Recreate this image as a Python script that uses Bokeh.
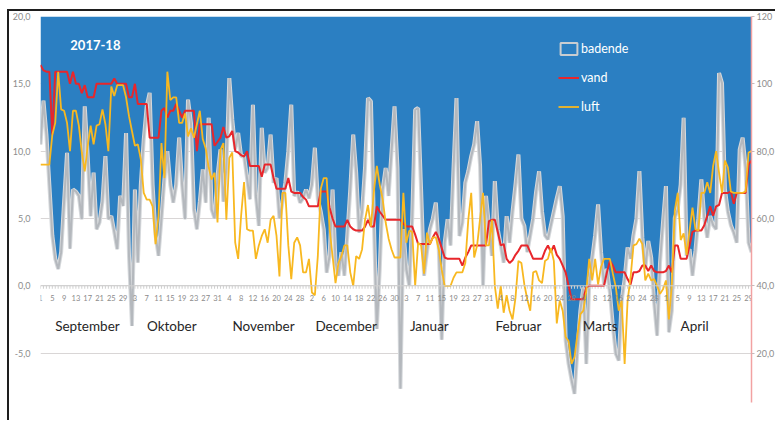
from bokeh.plotting import figure
from bokeh.models import (Range1d, LinearAxis, FixedTicker, CustomJSTickFormatter,
                          Legend, LegendItem, Span)
from bokeh.core.properties import value
from bokeh.embed import file_html
from bokeh.resources import INLINE

# ---------------- data ----------------
title_text = "2017-18"

# water temperature (left axis), one value per day, 1 Sep .. 30 Apr
vand = [16.4, 16.0, 15.9, 15.9, 11.2, 15.9, 15.9, 15.9, 15.9, 15.9,
        15.0, 15.9, 15.0, 15.0, 14.3, 14.9, 14.0, 14.0, 14.0, 15.0,
        15.0, 15.0, 15.0, 15.0, 15.0, 15.4, 15.0, 15.0, 15.0, 15.0,
        14.0, 14.0, 15.0, 13.5, 13.5, 13.5, 13.5, 11.0, 11.0, 11.0,
        11.0, 13.0, 13.2, 12.5, 13.0, 13.0, 13.5, 13.0, 12.5, 13.0,
        13.0, 13.0, 13.0, 10.0, 12.0, 12.0, 12.0, 12.0, 12.0, 10.4,
        10.7, 11.0, 11.8, 11.0, 11.1, 11.5, 10.0, 9.9, 9.7, 9.6,
        10.0, 8.9, 8.9, 8.9, 8.9, 8.1, 9.0, 9.0, 9.0, 8.0,
        7.2, 7.2, 7.2, 7.2, 8.0, 7.0, 6.9, 6.9, 6.9, 6.6,
        6.4, 5.9, 5.9, 5.9, 5.9, 7.0, 7.0, 7.0, 5.8, 5.0,
        4.4, 4.4, 4.4, 4.4, 4.9, 4.4, 4.2, 4.1, 4.1, 4.1,
        4.4, 4.9, 4.4, 4.4, 5.9, 5.5, 5.2, 4.9, 4.9, 4.9,
        4.9, 4.9, 4.9, 4.6, 4.4, 4.4, 4.4, 3.8, 3.1, 3.1,
        3.1, 3.1, 3.1, 3.6, 4.0, 3.5, 2.8, 2.1, 2.0, 2.0,
        2.0, 2.0, 2.0, 1.5, 2.1, 2.5, 3.0, 3.0, 3.0, 3.0,
        3.0, 3.0, 4.8, 4.9, 4.9, 4.0, 3.0, 3.1, 2.0, 1.7,
        1.9, 2.3, 2.6, 3.0, 3.0, 3.0, 2.5, 2.0, 2.0, 2.0,
        2.0, 2.6, 3.0, 2.5, 3.0, 2.3, 2.0, 1.5, 1.0, 0.0,
        -1.0, -1.0, -1.0, -1.0, -1.0, -0.1, 0.0, 0.0, 0.0, 0.0,
        0.0, 0.0, 1.0, 1.85, 1.5, 1.0, 1.0, 1.0, 1.0, 0.5,
        0.1, 1.0, 1.0, 1.1, 1.5, 1.5, 1.1, 1.5, 1.1, 1.0,
        1.0, 1.0, 1.1, 1.5, 1.0, 3.0, 3.0, 2.0, 2.0, 2.0,
        3.0, 4.0, 4.1, 4.1, 4.1, 4.5, 5.2, 5.9, 5.2, 5.9,
        6.0, 6.9, 6.9, 6.9, 7.0, 6.1, 6.9, 6.9, 6.9, 6.9,
        9.0, 9.3]

# air temperature (left axis)
luft = [9.0, 9.0, 9.0, 9.0, 11.2, 12.1, 15.9, 13.1, 13.0, 12.1,
        10.0, 13.0, 13.0, 11.9, 9.9, 8.5, 10.4, 11.9, 10.5, 11.9,
        12.0, 13.1, 12.0, 10.0, 14.8, 14.1, 14.9, 14.9, 14.9, 14.0,
        12.6, 11.5, 10.4, 10.5, 9.4, 6.9, 6.4, 6.4, 5.9, 3.1,
        5.2, 10.6, 8.0, 15.9, 13.8, 14.0, 14.0, 12.1, 12.1, 12.8,
        11.1, 11.7, 11.0, 12.0, 13.0, 10.9, 10.2, 8.8, 7.9, 8.4,
        4.7, 10.1, 10.6, 4.9, 9.5, 9.9, 3.2, 2.0, 5.2, 7.7,
        4.2, 4.1, 4.1, 2.0, 3.0, 3.7, 4.2, 3.2, 4.9, 5.2,
        3.7, 0.7, 6.9, 6.9, 3.0, 0.5, 3.2, 3.6, 3.0, 1.0,
        1.0, 2.0, -0.5, -0.7, 2.2, 7.2, 8.0, 8.0, 4.2, 2.2,
        0.2, 1.7, 2.2, 3.0, 3.0, 1.0, 0.0, 2.2, 2.0, 2.7,
        4.9, 6.0, 4.4, 7.0, 8.9, 7.5, 6.4, 4.7, 3.5, 2.7,
        2.1, 2.1, 2.1, 6.9, 3.2, 4.1, 4.0, 0.0, 3.2, 3.0,
        0.9, 3.95, 3.1, 3.6, 3.6, 2.7, 1.2, 0.0, 0.0, 0.0,
        0.6, 1.0, 1.0, 1.0, 1.7, 4.9, 6.9, 2.1, 3.0, 5.0,
        6.9, 3.0, 3.0, 4.9, 0.0, -1.7, 0.0, -2.0, -0.7, -1.85,
        -2.5, -0.9, 1.85, 1.7, 0.1, -1.0, -1.85, 1.0, 1.1, 0.4,
        0.2, 1.85, 2.0, 2.8, 1.85, -2.8, -1.1, -1.85, -3.8, -4.1,
        -5.8, -5.3, -3.6, -2.1, -1.85, -0.4, 2.0, 0.4, 2.0, 0.1,
        1.4, 2.0, 2.0, 2.0, 0.9, -0.1, -1.85, -1.1, -5.8, -1.1,
        0.6, 3.0, 3.1, 3.5, 3.1, 0.4, 0.9, 0.4, 0.5, 0.0,
        -0.6, -0.25, 0.4, -2.5, 0.1, 5.6, 6.9, 3.4, 3.9, 2.3,
        4.1, 5.8, 4.2, 4.1, 6.9, 6.9, 7.7, 6.9, 8.9, 10.0,
        8.4, 6.9, 9.3, 8.8, 7.0, 6.9, 6.9, 6.9, 6.9, 7.0,
        9.9, 10.0]

# number of bathers (right axis)
badende = [82, 95, 85, 70, 55, 48, 45, 50, 65, 79.5,
           51, 68.6, 68, 66.7, 59.8, 93.3, 78.5, 60.7, 73.6, 56.8,
           58.8, 65, 78.5, 59.8, 60.7, 56, 50.9, 66.7, 63.7, 85.4,
           48.9, 28.1, 68.6, 46.9, 70, 83.5, 93.3, 97.3, 70, 55,
           48.9, 60, 71.6, 80, 70, 64.7, 70, 84, 70, 59.8,
           95.3, 88.4, 62.7, 56.8, 65, 74.6, 64.7, 89.9, 62.7, 60,
           72.6, 80.5, 65, 75, 101.7, 89.4, 80.5, 85.4, 78.5, 78.5,
           72, 65.7, 93.8, 66.7, 57.8, 86.9, 73.6, 75, 84.9, 70.6,
           72, 60, 64.7, 70.6, 80, 93.8, 66.7, 68, 64.7, 66,
           68.6, 66, 70, 81, 65.7, 62, 56.8, 43.9, 48.9, 68.6,
           46.9, 43, 50, 43, 55, 68.6, 84.9, 73.6, 55.8, 62,
           75, 95.8, 94.8, 58.8, 27.2, 45, 68.6, 75, 66.7, 80,
           93.3, 75, 9.4, 56.8, 45, 40, 60, 92.3, 92.8, 68.6,
           43, 50, 56.8, 60, 64.7, 50.9, 24, 52.8, 59.8, 52,
           75, 95.8, 54.8, 58.8, 70.6, 74, 78.5, 82, 88.9, 75.6,
           40, 66.7, 58, 48.9, 71.1, 56.8, 52, 46.9, 60.7, 52.8,
           62, 70, 79, 60, 57.8, 50, 55, 60, 68, 74,
           62, 55, 53.8, 58, 62, 66, 69.6, 60.7, 23.7, 16.8,
           12, 7.9, 20.7, 32.6, 39.5, 16.8, 40.5, 48, 55, 64.2,
           50, 40.5, 45, 38, 28, 19.8, 17.8, 35.6, 42, 51.4,
           48, 55, 60, 74.1, 54.3, 45, 53.3, 48.4, 35, 25.2,
           46.9, 58.8, 69.6, 26.2, 32.6, 60.2, 62.7, 70, 89.9, 48.9,
           50.9, 43, 50.4, 60, 71.6, 60, 54.3, 60.7, 58, 56.8,
           103.2, 100.2, 68.6, 62, 58, 55.8, 52.8, 80.5, 84, 75,
           52.8, 50]

# day-of-month tick labels, every 4th day
tick_labels = ["1", "5", "9", "13", "17", "21", "25", "29",
               "3", "7", "11", "15", "19", "23", "27", "31",
               "4", "8", "12", "16", "20", "24", "28",
               "2", "6", "10", "14", "18", "22", "26", "30",
               "3", "7", "11", "15", "19", "23", "27", "31",
               "4", "8", "12", "16", "20", "24", "28",
               "4", "8", "12", "16", "20", "24", "28",
               "1", "5", "9", "13", "17", "21", "25", "29"]

months = ["September", "Oktober", "November", "December",
          "Januar", "Februar", "Marts", "April"]

left_ticks = [-5, 0, 5, 10, 15, 20]
right_ticks = [20, 40, 60, 80, 100, 120]

# ---------------- layout helpers (not data) ----------------
month_label_x = [15.9, 44.5, 75.6, 103.6, 131.8, 162.0, 189.7, 221.7]
LEFT_MIN, LEFT_MAX = -8.667, 20.0
RIGHT_MIN, RIGHT_MAX = 40 + 4 * LEFT_MIN, 120.0

n = len(vand)
days = list(range(n))
tick_x = days[::4]

FONT = value("Lato")
BLUE = "#2b7fc2"

p = figure(width=768, height=411, output_backend="svg", toolbar_location=None,
           x_range=Range1d(0, n - 1), y_range=Range1d(LEFT_MIN, LEFT_MAX),
           min_border_left=31, min_border_right=25, min_border_top=5,
           min_border_bottom=20)
p.styles = {"margin-left": "7px", "margin-top": "9px",
            "border-top": "2px solid #1e1e1e", "border-left": "2px solid #1e1e1e"}
p.extra_y_ranges = {"right": Range1d(RIGHT_MIN, RIGHT_MAX)}
p.outline_line_color = None
p.background_fill_color = "white"
p.border_fill_color = "white"

p.xaxis.visible = False
p.xgrid.visible = False
p.ygrid.ticker = FixedTicker(ticks=left_ticks)
p.ygrid.grid_line_color = "#d9d6d6"
p.ygrid.grid_line_width = 1

ya = p.yaxis[0]
ya.ticker = FixedTicker(ticks=left_ticks)
ya.formatter = CustomJSTickFormatter(code="return tick.toFixed(1).replace('.', ',');")
ya.axis_line_color = None
ya.major_tick_line_color = None
ya.minor_tick_line_color = None
ya.major_label_text_font_size = "9px"
ya.major_label_text_color = "#8c8c8c"
ya.major_label_text_font = "Lato"
ya.major_label_standoff = 4

ra = LinearAxis(y_range_name="right", ticker=FixedTicker(ticks=right_ticks),
                formatter=CustomJSTickFormatter(
                    code="return tick >= 100 ? tick.toFixed(0) : tick.toFixed(1).replace('.', ',');"))
ra.axis_line_color = "#f2a2a2"
ra.axis_line_width = 1.5
ra.major_tick_line_color = "#c9b8b8"
ra.major_tick_out = 3
ra.major_tick_in = 0
ra.minor_tick_line_color = None
ra.major_label_text_font_size = "9px"
ra.major_label_text_color = "#8c8c8c"
ra.major_label_text_font = "Lato"
ra.major_label_standoff = 2
p.add_layout(ra, "right")

# blue sky above the bathers curve, white below
p.varea(x=days, y1=badende, y2=[RIGHT_MAX] * n, y_range_name="right",
        fill_color=BLUE)
p.line(days, badende, y_range_name="right", line_color="#d6d9dc", line_width=4)
p.line(days, badende, y_range_name="right", line_color="#b4b8bd", line_width=2)

# category axis drawn at zero
p.add_layout(Span(location=0, dimension="width", line_color="#cfcfcf", line_width=1))
p.segment(x0=days, y0=[0] * n, x1=days, y1=[-0.22] * n, line_color="#cfcfcf", line_width=1)

r_vand = p.line(days, vand, line_color="#e8262b", line_width=2)
r_luft = p.line(days, luft, line_color="#f8b820", line_width=1.8)

p.text(x=tick_x, y=[-0.9] * len(tick_x), text=tick_labels, text_align="center",
       text_baseline="middle", text_font_size="7.5px", text_color="#8a8a8a",
       text_font=FONT)
p.text(x=month_label_x, y=[-2.96] * len(months), text=months, text_align="center",
       text_baseline="middle", text_font_size="13.5px", text_color="#262626",
       text_font=FONT)
p.text(x=[18.6], y=[17.9], text=[title_text], text_align="center",
       text_baseline="middle", text_font_size="13px", text_font_style="bold",
       text_color="white", text_font=FONT)

# legend
nan = float("nan")
r_bad_leg = p.quad(left=[nan], right=[nan], top=[nan], bottom=[nan], fill_color=BLUE,
                   line_color="#c9cdd1", line_width=2)
legend = Legend(items=[LegendItem(label="badende", renderers=[r_bad_leg]),
                       LegendItem(label="vand", renderers=[r_vand]),
                       LegendItem(label="luft", renderers=[r_luft])],
                location=(518, 288))
legend.background_fill_alpha = 0
legend.border_line_color = None
legend.label_text_color = "white"
legend.label_text_font_size = "12.5px"
legend.label_text_font = "Lato"
legend.padding = 0
legend.margin = 0
legend.spacing = 14
legend.label_standoff = 2
legend.glyph_width = 21
legend.glyph_height = 15
legend.label_height = 15
p.add_layout(legend)

open("out.html", "w").write(file_html(p, INLINE))
